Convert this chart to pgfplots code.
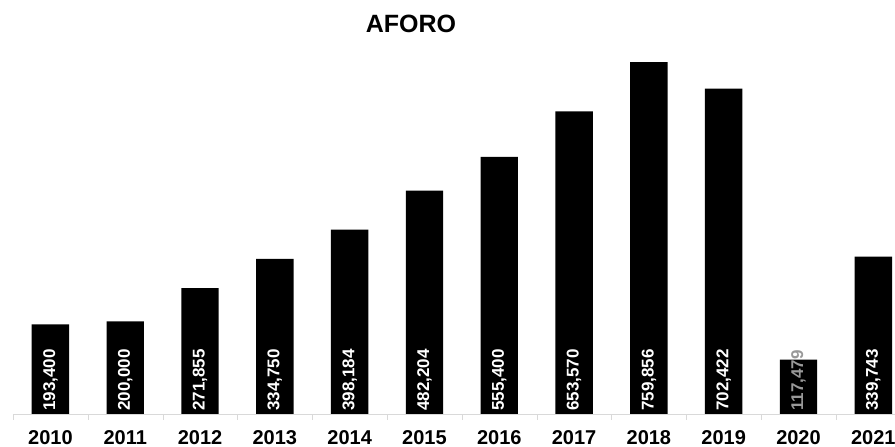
\documentclass[border=0pt]{standalone}
\usepackage{pgfplots}
\pgfplotsset{compat=1.18}
\usepackage{pgfplotstable}
\usepackage{fontspec}
\setmainfont{Liberation Sans}

\pgfplotstableread{
x y z lbl
0 193400 0 193,400
1 200000 0 200,000
2 271855 0 271,855
3 334750 0 334,750
4 398184 0 398,184
5 482204 0 482,204
6 555400 0 555,400
7 653570 0 653,570
8 759856 0 759,856
9 702422 0 702,422
10 117479 0 117,479
11 339743 0 339,743
}\data

\pgfplotstableread{
x z lbl
0 0 193,400
1 0 200,000
2 0 271,855
3 0 334,750
4 0 398,184
5 0 482,204
6 0 555,400
7 0 653,570
8 0 759,856
9 0 702,422
11 0 339,743
}\whitelbl

\pgfplotstableread{
x z lbl
10 0 117,479
}\graylbl

\begin{document}
\begin{tikzpicture}
\begin{axis}[
  at={(13pt,33pt)}, anchor=south west,
  scale only axis, width=882pt, height=364pt,
  xmin=-0.5, xmax=11.29, ymin=0, ymax=786000,
  axis y line=none, axis x line=bottom,
  x axis line style={draw=black!15, -},
  xtick={0,...,11},
  xticklabels={2010,2011,2012,2013,2014,2015,2016,2017,2018,2019,2020,2021},
  major tick length=0pt,
  minor xtick={-0.5,0.5,...,10.5},
  minor tick length=6pt,
  tick align=outside,
  tick style={draw=black!15},
  xticklabel style={font=\bfseries\fontsize{20}{24}\selectfont, inner sep=0pt, anchor=north, yshift=-16pt},
  /pgf/number format/assume math mode=true,
  clip=false,
]
\addplot[ybar, fill=black, draw=none, bar width=0.5] table[x=x, y=y] {\data};
\addplot[draw=none, nodes near coords, point meta=explicit symbolic,
  nodes near coords style={rotate=90, anchor=west, inner sep=3pt, text=white, font=\bfseries\fontsize{17}{20}\selectfont}]
  table[x=x, y=z, meta=lbl] {\whitelbl};
\addplot[draw=none, nodes near coords, point meta=explicit symbolic,
  nodes near coords style={rotate=90, anchor=west, inner sep=3pt, text=black!40, font=\bfseries\fontsize{17}{20}\selectfont}]
  table[x=x, y=z, meta=lbl] {\graylbl};
\end{axis}
\node[font=\bfseries\fontsize{25}{30}\selectfont] at (411pt,423pt) {AFORO};
\pgfresetboundingbox
\path[use as bounding box] (0,0) rectangle (895pt,447pt);
\end{tikzpicture}
\end{document}
